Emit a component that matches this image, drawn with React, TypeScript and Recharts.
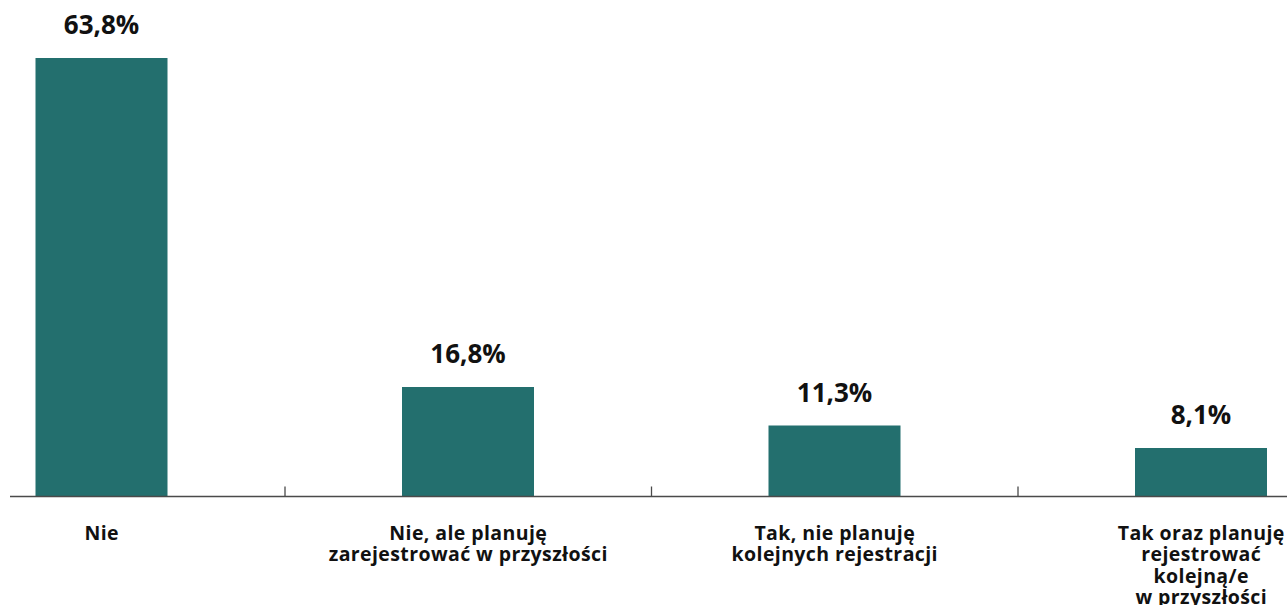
import React from "react";
import { BarChart, Bar, XAxis, YAxis, LabelList } from "recharts";

const categories = [
  "Nie",
  "Nie, ale planuję zarejestrować w przyszłości",
  "Tak, nie planuję kolejnych rejestracji",
  "Tak oraz planuję rejestrować kolejną/e w przyszłości",
];

const categoryLines = [
  ["Nie"],
  ["Nie, ale planuję", "zarejestrować w przyszłości"],
  ["Tak, nie planuję", "kolejnych rejestracji"],
  ["Tak oraz planuję", "rejestrować", "kolejną/e", "w przyszłości"],
];

const shares = [63.8, 16.8, 11.3, 8.1];

const data = categories.map((name, i) => ({ name, value: shares[i] }));

const FONT = "'Open Sans', 'DejaVu Sans', sans-serif";
const BAND = 366.5;
const AXIS_COLOR = "#4a4a4a";

function CategoryTick(props: any) {
  const { x, y, payload } = props;
  const idx = payload.index ?? categories.indexOf(payload.value);
  const lines = categoryLines[idx] || [payload.value];
  return (
    <g>
      {idx > 0 && (
        <line
          x1={x - BAND / 2}
          x2={x - BAND / 2}
          y1={y - 10}
          y2={y}
          stroke={AXIS_COLOR}
          strokeWidth={1.3}
        />
      )}
      <text
        x={x}
        y={y + 43}
        textAnchor="middle"
        fontFamily={FONT}
        fontWeight={700}
        fontSize={19.5}
        letterSpacing={0.4}
        fill="#111"
      >
        {lines.map((line, i) => (
          <tspan key={i} x={x} dy={i === 0 ? 0 : 21.5}>
            {line}
          </tspan>
        ))}
      </text>
    </g>
  );
}

export default function App() {
  return (
    <div
      style={{
        position: "absolute",
        left: 0,
        top: 0,
        width: 1287,
        height: 605,
        overflow: "hidden",
        background: "#fff",
      }}
    >
      <BarChart
        width={1385}
        height={605}
        data={data}
        margin={{ top: 14.5, right: 0, bottom: 0, left: 10 }}
      >
        <XAxis
          dataKey="name"
          height={108.5}
          padding={{ left: -91.5, right: 0.5 }}
          axisLine={{ stroke: AXIS_COLOR, strokeWidth: 1.5 }}
          tickLine={false}
          tickSize={0}
          tickMargin={0}
          interval={0}
          tick={<CategoryTick />}
        />
        <YAxis hide domain={[1.17, 70]} allowDataOverflow />
        <Bar dataKey="value" fill="#236F6E" barSize={132} isAnimationActive={false}>
          <LabelList
            dataKey="value"
            position="top"
            offset={24}
            formatter={(v: any) => `${Number(v).toFixed(1).replace(".", ",")}%`}
            style={{
              fontFamily: FONT,
              fontWeight: 700,
              fontSize: 26,
              fill: "#111",
            }}
          />
        </Bar>
      </BarChart>
    </div>
  );
}
